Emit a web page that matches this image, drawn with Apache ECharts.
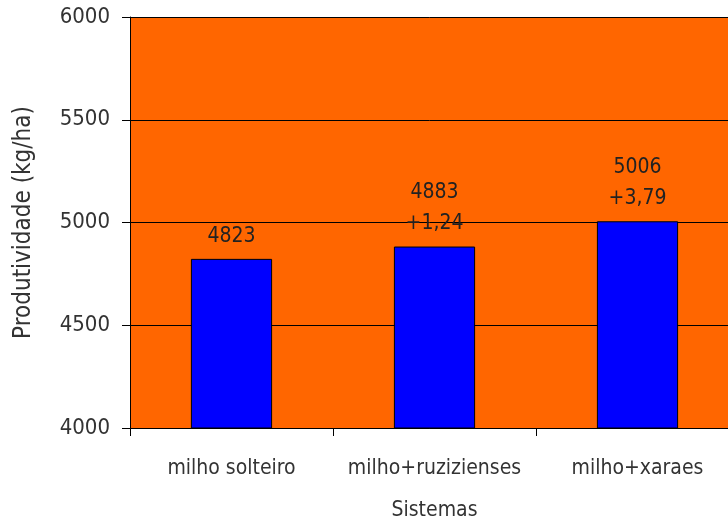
<!DOCTYPE html>
<html><head><meta charset="utf-8">
<script src="https://cdn.jsdelivr.net/npm/echarts@6/dist/echarts.min.js"></script>
<style>html,body{margin:0;padding:0;background:#fff}#c{width:728px;height:523px}</style>
</head><body><div id="c"></div>
<script>
const categories = ['milho solteiro', 'milho+ruzizienses', 'milho+xaraes'];
const values = [4823, 4883, 5006];
const gains = ['', '+1,24', '+3,79'];
const yTicks = [4000, 4500, 5000, 5500, 6000];

const FONT = '"DejaVu Sans Condensed", "Liberation Sans Narrow", sans-serif';
const chart = echarts.init(document.getElementById('c'), null, {renderer: 'canvas'});
chart.setOption({
  animation: false,
  backgroundColor: '#ffffff',
  grid: {left: 130, top: 17, width: 609, height: 411, containLabel: false, outerBoundsMode: 'none',
         show: true, backgroundColor: '#FF6600', borderWidth: 0},
  xAxis: {
    type: 'category', data: categories, name: 'Sistemas', nameLocation: 'middle', nameGap: 72,
    nameTextStyle: {fontFamily: FONT, fontSize: 21, color: '#333'},
    axisLine: {lineStyle: {color: '#000', width: 1}},
    axisTick: {show: true, length: 8, alignWithLabel: false, lineStyle: {color: '#000'}},
    axisLabel: {fontFamily: FONT, fontSize: 21, color: '#333', margin: 30, interval: 0, hideOverlap: false}
  },
  yAxis: {
    type: 'value', min: yTicks[0], max: yTicks[yTicks.length - 1], interval: 500,
    name: 'Produtividade (kg/ha)', nameLocation: 'middle', nameGap: 94, nameRotate: 90,
    nameTextStyle: {fontFamily: FONT, fontSize: 24, color: '#333'},
    axisLine: {show: true, lineStyle: {color: '#000', width: 1}},
    axisTick: {show: true, length: 8, lineStyle: {color: '#000'}},
    axisLabel: {fontFamily: FONT, fontSize: 22, color: '#333', margin: 20, formatter: v => String(v)},
    splitLine: {show: true, lineStyle: {color: '#000', width: 1}}
  },
  series: [{
    type: 'bar', data: values, barWidth: '40%',
    itemStyle: {color: '#0000FF', borderColor: '#000', borderWidth: 1},
    label: {
      show: true, position: 'top', distance: 7,
      fontFamily: FONT, fontSize: 21, color: '#222', lineHeight: 31,
      formatter: p => gains[p.dataIndex] ? p.value + '\n' + gains[p.dataIndex] : String(p.value)
    }
  }]
});
</script></body></html>
